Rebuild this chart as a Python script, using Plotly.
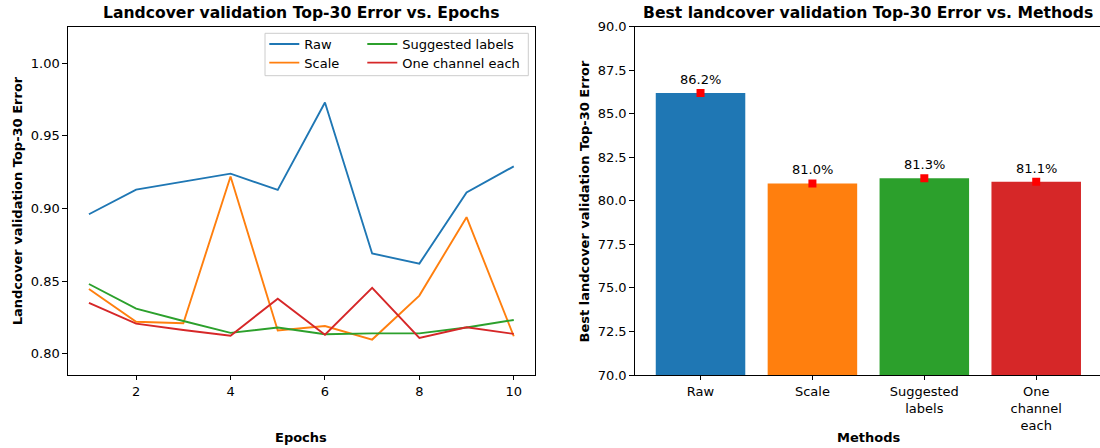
import plotly.graph_objects as go

# ---------------- data ----------------
epochs = [1, 2, 3, 4, 5, 6, 7, 8, 9, 10]
raw = [0.896, 0.913, 0.9185, 0.924, 0.9128, 0.973, 0.869, 0.862, 0.911, 0.929]
scale = [0.8446, 0.822, 0.821, 0.922, 0.816, 0.819, 0.8097, 0.840, 0.894, 0.812]
suggested = [0.848, 0.831, 0.8225, 0.8143, 0.818, 0.8134, 0.814, 0.814, 0.818, 0.8232]
one_channel = [0.835, 0.8207, 0.8163, 0.8124, 0.8379, 0.8131, 0.8453, 0.8108, 0.8182, 0.8136]

series_names = ["Raw", "Scale", "Suggested labels", "One channel each"]
series_values = [raw, scale, suggested, one_channel]
colors = ["#1f77b4", "#ff7f0e", "#2ca02c", "#d62728"]

methods = ["Raw", "Scale", "Suggested labels", "One channel each"]
method_ticklabels = ["Raw", "Scale", "Suggested<br>labels", "One<br>channel<br>each"]
best_values = [round(min(v) * 100, 1) for v in series_values]  # 86.2, 81.0, 81.3, 81.1

# ---------------- layout helpers (pixels) ----------------
W, H = 1100, 448
FONT = "DejaVu Sans"
TICK = 13
TITLE = 15.6


def px_x(p):
    return p / W


def px_y(p):
    return 1 - p / H


fig = go.Figure()

# legend slots (matplotlib ncol=2 layout: column-major)
legend_ids = ["legend", "legend2", "legend3", "legend4"]
legend_pos = [(264.3, 44.0), (264.3, 62.7), (362.3, 44.0), (362.3, 62.7)]

for i, (name, vals) in enumerate(zip(series_names, series_values)):
    fig.add_trace(go.Scatter(
        x=epochs, y=vals, mode="lines", name=name,
        line=dict(color=colors[i], width=1.9),
        xaxis="x", yaxis="y", legend=legend_ids[i],
    ))

bar_x = list(range(len(methods)))
fig.add_trace(go.Bar(
    x=bar_x, y=best_values, width=0.8, marker=dict(color=colors, line=dict(width=0)),
    base=0, xaxis="x2", yaxis="y2", showlegend=False,
))
fig.add_trace(go.Scatter(
    x=bar_x, y=best_values, mode="markers",
    marker=dict(symbol="square", size=8, color="red", line=dict(width=0)),
    xaxis="x2", yaxis="y2", showlegend=False,
))

annotations = []
for xv, yv in zip(bar_x, best_values):
    annotations.append(dict(
        x=xv, y=yv, xref="x2", yref="y2", text=f"{yv:.1f}%", showarrow=False,
        yanchor="middle", yshift=13.5, font=dict(size=TICK, color="black", family=FONT),
    ))

title_font = dict(size=TITLE, color="black", family=FONT, weight="bold")
lab_font = dict(size=TICK, color="black", family=FONT, weight="bold")
annotations += [
    dict(x=px_x(301.3), y=px_y(13.3), xref="paper", yref="paper", showarrow=False,
         text="Landcover validation Top-30 Error vs. Epochs", font=title_font,
         xanchor="center", yanchor="middle"),
    dict(x=px_x(868.3), y=px_y(13.3), xref="paper", yref="paper", showarrow=False,
         text="Best landcover validation Top-30 Error vs. Methods", font=title_font,
         xanchor="center", yanchor="middle"),
    dict(x=px_x(301.3), y=px_y(437), xref="paper", yref="paper", showarrow=False,
         text="Epochs", font=lab_font, xanchor="center", yanchor="middle"),
    dict(x=px_x(868.3), y=px_y(437), xref="paper", yref="paper", showarrow=False,
         text="Methods", font=lab_font, xanchor="center", yanchor="middle"),
    dict(x=px_x(17.5), y=px_y(200.8), xref="paper", yref="paper", showarrow=False,
         text="Landcover validation Top-30 Error", font=lab_font, textangle=-90,
         xanchor="center", yanchor="middle"),
    dict(x=px_x(584.7), y=px_y(200.8), xref="paper", yref="paper", showarrow=False,
         text="Best landcover validation Top-30 Error", font=lab_font, textangle=-90,
         xanchor="center", yanchor="middle"),
]

axis_common = dict(
    showgrid=False, zeroline=False, showline=True, linecolor="black", linewidth=1,
    ticks="outside", ticklen=4.3, tickwidth=1, tickcolor="black",
    tickfont=dict(size=TICK, color="black", family=FONT), automargin=False,
)

legends = {}
for lid, (lx, ly) in zip(legend_ids, legend_pos):
    legends[lid] = dict(
        x=px_x(lx), y=px_y(ly), xanchor="left", yanchor="middle",
        bgcolor="rgba(0,0,0,0)", borderwidth=0,
        font=dict(size=TICK, color="black", family=FONT), tracegroupgap=0,
    )

fig.update_layout(
    width=W, height=H,
    margin=dict(l=0, r=0, t=0, b=0, pad=0, autoexpand=False),
    paper_bgcolor="white", plot_bgcolor="white",
    font=dict(family=FONT, size=TICK, color="black"),
    xaxis=dict(domain=[px_x(67.7), px_x(535)], range=[0.55, 10.45],
               tickvals=[2, 4, 6, 8, 10], mirror=True, anchor="y", **axis_common),
    yaxis=dict(domain=[px_y(375), px_y(26.7)], range=[0.7853, 1.0252],
               tickvals=[0.80, 0.85, 0.90, 0.95, 1.00], tickformat=".2f",
               mirror=True, anchor="x", **axis_common),
    xaxis2=dict(domain=[px_x(634.5), 1.0], range=[-0.59, 3.57],
                tickvals=bar_x, ticktext=method_ticklabels, mirror=True, anchor="y2",
                **axis_common),
    yaxis2=dict(domain=[px_y(375), px_y(26.7)], range=[70, 90],
                tickvals=[70, 72.5, 75, 77.5, 80, 82.5, 85, 87.5, 90], tickformat=".1f",
                mirror=False, anchor="x2", **axis_common),
    shapes=[dict(type="rect", xref="paper", yref="paper",
                 x0=px_x(265), x1=px_x(528.3), y0=px_y(75.7), y1=px_y(33.3),
                 line=dict(color="#cccccc", width=1), fillcolor="rgba(255,255,255,0.8)",
                 layer="above")],
    annotations=annotations,
    showlegend=True,
    **legends,
)

fig.write_html(
    "out.html",
    config={"displayModeBar": False},
    post_script="document.body.style.margin='0px';document.body.style.overflow='hidden';",
)
